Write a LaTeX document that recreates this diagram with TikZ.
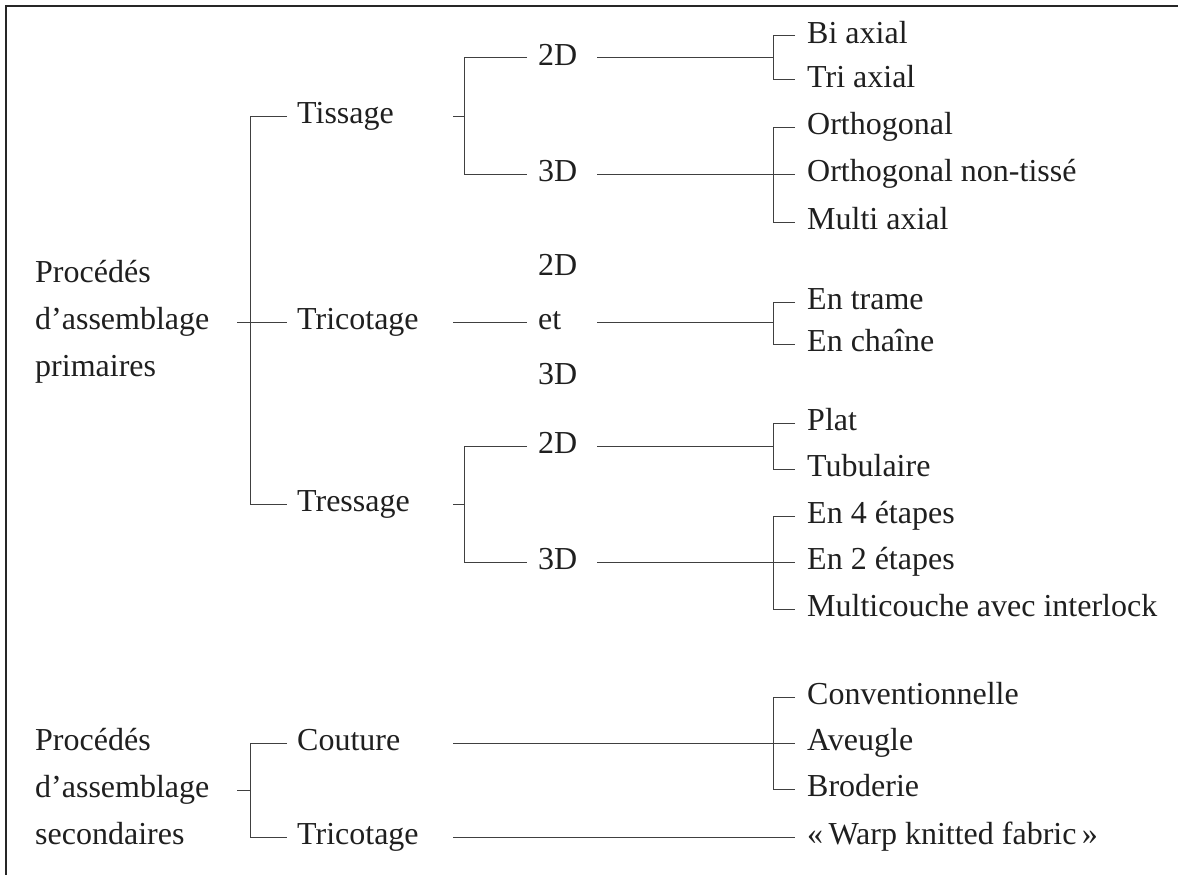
\documentclass[tikz,border=0pt]{standalone}
\usepackage{fontspec}
\setmainfont{Liberation Serif}
\begin{document}
\begin{tikzpicture}[x=1pt,y=-1pt,
  lbl/.style={inner ysep=0pt, text height=23.7pt, text depth=8pt, anchor=west,
              font=\fontsize{32}{38}\selectfont, text=black!88},
  rootl/.style={lbl, inner xsep=0pt},
  lvlone/.style={lbl, inner xsep=10pt},
  lvltwo/.style={lbl, inner xsep=11pt},
  leaf/.style={lbl, inner xsep=12pt},
  link/.style={line width=1pt, draw=black!75},
  frame/.style={line width=1.3pt, draw=black!85}]
\useasboundingbox (0,0) rectangle (1178,875);

% frame (top and left edges)
\draw[frame] (6,875) -- (6,6) -- (1178,6);

% column positions of the bracket ticks and junctions
\coordinate (c0)  at (237,0);
\coordinate (cj0) at (250,0);
\coordinate (c1)  at (453,0);
\coordinate (cj1) at (464,0);
\coordinate (c2)  at (597,0);
\coordinate (cj2) at (773,0);

% ---------- primary processes ----------
\node[rootl] (r1a) at (35,275) {Procédés};
\node[rootl] (r1b) at (35,322) {d’assemblage};
\node[rootl] (r1c) at (35,369) {primaires};

\node[lvlone] (tissage)  at (287,116) {Tissage};
\node[lvlone] (tricot)   at (287,322) {Tricotage};
\node[lvlone] (tressage) at (287,504) {Tressage};

\node[lvltwo] (t2d) at (527,58)  {2D};
\node[lvltwo] (t3d) at (527,174) {3D};
\node[lvltwo] (tri2d) at (527,268) {2D};
\node[lvltwo] (triet) at (527,322) {et};
\node[lvltwo] (tri3d) at (527,377) {3D};
\node[lvltwo] (ts2d) at (527,446) {2D};
\node[lvltwo] (ts3d) at (527,562) {3D};

\node[leaf] (bi)    at (795,36)  {Bi axial};
\node[leaf] (tri)   at (795,80)  {Tri axial};
\node[leaf] (orth)  at (795,127) {Orthogonal};
\node[leaf] (ortnt) at (795,174) {Orthogonal non-tissé};
\node[leaf] (multi) at (795,222) {Multi axial};
\node[leaf] (trame) at (795,302) {En trame};
\node[leaf] (chain) at (795,344) {En chaîne};
\node[leaf] (plat)  at (795,423) {Plat};
\node[leaf] (tubu)  at (795,469) {Tubulaire};
\node[leaf] (e4)    at (795,516) {En 4 étapes};
\node[leaf] (e2)    at (795,562) {En 2 étapes};
\node[leaf] (mcouche) at (795,609) {Multicouche avec interlock};

% ---------- secondary processes ----------
\node[rootl] (r2a) at (35,743) {Procédés};
\node[rootl] (r2b) at (35,790) {d’assemblage};
\node[rootl] (r2c) at (35,837) {secondaires};

\node[lvlone] (couture) at (287,743) {Couture};
\node[lvlone] (tric2)   at (287,837) {Tricotage};

\node[leaf] (conv) at (795,697) {Conventionnelle};
\node[leaf] (aveu) at (795,743) {Aveugle};
\node[leaf] (brod) at (795,789) {Broderie};
\node[leaf] (warp) at (795,837) {«\,Warp knitted fabric\,»};

% ---------- connectors ----------
% primary root bracket
\draw[link] (r1b.east -| c0) -- (tricot.west);
\draw[link] (tissage.west) -| (tressage.west -| cj0) -- (tressage.west);

% weaving
\draw[link] (tissage.east -| c1) -- (tissage.east -| cj1);
\draw[link] (t2d.west) -| (t3d.west -| cj1) -- (t3d.west);
\draw[link] (t2d.east -| c2) -- (t2d.east -| cj2);
\draw[link] (bi.west) -| (tri.west -| cj2) -- (tri.west);
\draw[link] (t3d.east -| c2) -- (ortnt.west);
\draw[link] (orth.west) -| (multi.west -| cj2) -- (multi.west);

% knitting
\draw[link] (tricot.east -| c1) -- (triet.west);
\draw[link] (triet.east -| c2) -- (triet.east -| cj2);
\draw[link] (trame.west) -| (chain.west -| cj2) -- (chain.west);

% braiding
\draw[link] (tressage.east -| c1) -- (tressage.east -| cj1);
\draw[link] (ts2d.west) -| (ts3d.west -| cj1) -- (ts3d.west);
\draw[link] (ts2d.east -| c2) -- (ts2d.east -| cj2);
\draw[link] (plat.west) -| (tubu.west -| cj2) -- (tubu.west);
\draw[link] (ts3d.east -| c2) -- (e2.west);
\draw[link] (e4.west) -| (mcouche.west -| cj2) -- (mcouche.west);

% secondary root bracket
\draw[link] (r2b.east -| c0) -- (r2b.east -| cj0);
\draw[link] (couture.west) -| (tric2.west -| cj0) -- (tric2.west);

% stitching
\draw[link] (couture.east -| c1) -- (aveu.west);
\draw[link] (conv.west) -| (brod.west -| cj2) -- (brod.west);

% warp knitting
\draw[link] (tric2.east -| c1) -- (warp.west);
\end{tikzpicture}
\end{document}
